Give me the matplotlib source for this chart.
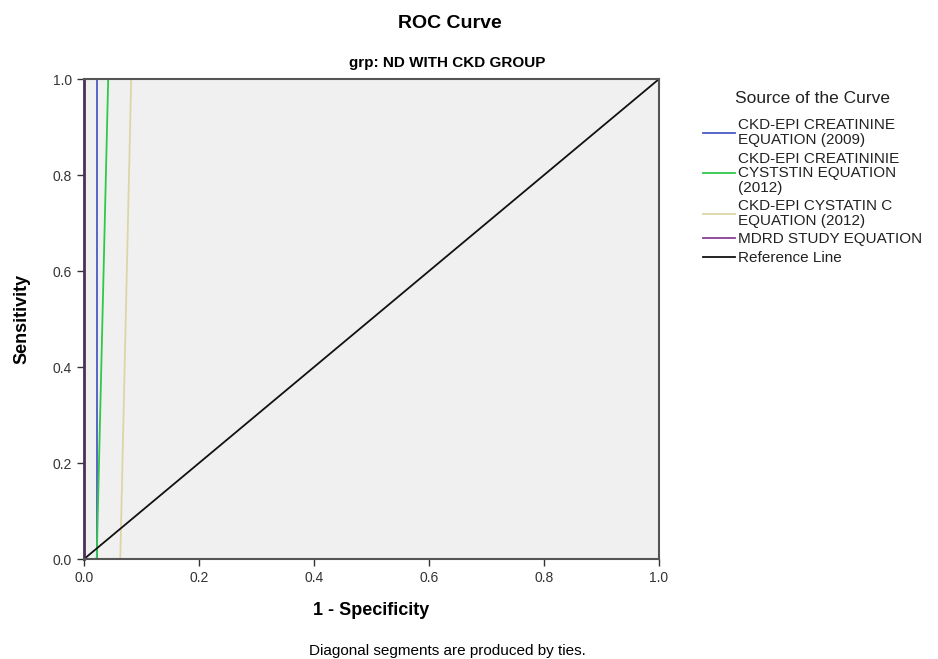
import matplotlib.pyplot as plt

plt.rcParams['font.family'] = ['Liberation Sans', 'DejaVu Sans']

# ROC curve points (1 - specificity, sensitivity)
ckd_2009_fpr = [0.0, 0.022, 0.022, 1.0]
ckd_2009_tpr = [0.0, 0.0, 1.0, 1.0]
ckd_cys_creat_fpr = [0.0, 0.022, 0.042, 1.0]
ckd_cys_creat_tpr = [0.0, 0.0, 1.0, 1.0]
ckd_cystatin_fpr = [0.0, 0.063, 0.082, 1.0]
ckd_cystatin_tpr = [0.0, 0.0, 1.0, 1.0]
mdrd_fpr = [0.0, 0.0, 1.0]
mdrd_tpr = [0.0, 1.0, 1.0]
ref_x = [0.0, 1.0]
ref_y = [0.0, 1.0]

labels = ["CKD-EPI CREATININE\nEQUATION (2009)",
          "CKD-EPI CREATININIE\nCYSTSTIN EQUATION\n(2012)",
          "CKD-EPI CYSTATIN C\nEQUATION (2012)",
          "MDRD STUDY EQUATION",
          "Reference Line"]
ticks = [0.0, 0.2, 0.4, 0.6, 0.8, 1.0]

fig = plt.figure(figsize=(9.38, 6.59), dpi=100)
ax = fig.add_axes([0.0896, 0.1517, 0.6130, 0.7284])
ax.set_facecolor('#f0f0f0')

l1, = ax.plot(ckd_2009_fpr, ckd_2009_tpr, color='#4a5bc4', lw=1.3)
l2, = ax.plot(ckd_cys_creat_fpr, ckd_cys_creat_tpr, color='#2fc84a', lw=1.3)
l3, = ax.plot(ckd_cystatin_fpr, ckd_cystatin_tpr, color='#dcd6a6', lw=1.3)
l4, = ax.plot(mdrd_fpr, mdrd_tpr, color='#8a3f96', lw=1.3)
l5, = ax.plot(ref_x, ref_y, color='#111111', lw=1.3)

ax.set_xlim(0, 1)
ax.set_ylim(0, 1)
ax.set_xticks(ticks)
ax.set_yticks(ticks)
ax.set_xticklabels(['%.1f' % t for t in ticks])
ax.set_yticklabels(['%.1f' % t for t in ticks])
ax.tick_params(direction='out', length=5, width=1, colors='#333333', labelsize=10)
for s in ax.spines.values():
    s.set_color('#555555')
    s.set_linewidth(1.5)
# purple curve runs up the left edge, so the spine there looks purple-dark
ax.spines['left'].set_color('#4e2f5a')
ax.spines['left'].set_linewidth(2)

ax.set_xlabel('1 - Specificity', fontsize=13, fontweight='bold', labelpad=12)
ax.set_ylabel('Sensitivity', fontsize=13, fontweight='bold', labelpad=16)

fig.text(0.48, 0.964, 'ROC Curve', ha='center', va='center', fontsize=14, fontweight='bold')
fig.text(0.477, 0.904, 'grp: ND WITH CKD GROUP', ha='center', va='center', fontsize=11, fontweight='bold')
fig.text(0.477, 0.012, 'Diagonal segments are produced by ties.', ha='center', va='center', fontsize=11)

leg = fig.legend([l1, l2, l3, l4, l5], labels, loc='upper left',
                 bbox_to_anchor=(0.749, 0.862), frameon=False,
                 title='Source of the Curve', fontsize=11, title_fontsize=12.5,
                 handlelength=2.1, handletextpad=0.2, labelspacing=0.3,
                 borderpad=0, borderaxespad=0)
for t in leg.get_texts():
    t.set_linespacing(1.05)
    t.set_color('#222222')
leg.get_title().set_color('#222222')
leg._legend_box.sep = 9
leg._legend_box.align = 'center'

fig.savefig('out.png', dpi=100)
